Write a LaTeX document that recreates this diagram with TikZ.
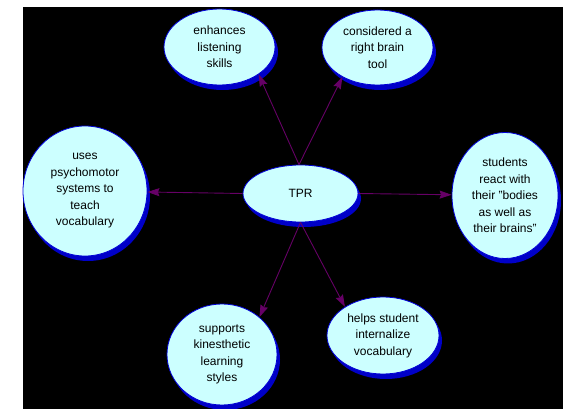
\documentclass[tikz,border=0pt]{standalone}
\usepackage{fontspec}
\setmainfont{Liberation Sans}
\usetikzlibrary{shapes.geometric,shadows,arrows.meta}
\definecolor{bubblefill}{HTML}{CCFFFF}
\definecolor{bubbleedge}{HTML}{0000D8}
\definecolor{bubbleshadow}{HTML}{0000C8}
\definecolor{linkcol}{HTML}{660066}
\tikzset{
  bubble/.style={ellipse, fill=bubblefill, draw=bubbleedge, line width=0.8pt,
    inner sep=0pt, align=center, text=black,
    font=\fontsize{12}{16.5}\selectfont,
    general shadow={fill=bubbleshadow, shadow xshift=3pt, shadow yshift=-5pt}},
  link/.style={draw=linkcol, line width=0.9pt,
    -{Stealth[length=12pt,width=8pt,inset=1.5pt,fill=linkcol]}}
}
\begin{document}
\begin{tikzpicture}[x=1pt,y=-1pt]
\useasboundingbox (0,0) rectangle (563,409);
\fill[white] (0,0) rectangle (563,409);
\fill[black] (23,7) rectangle (563,409);

\node[bubble, minimum width=111pt, minimum height=76pt] (enh) at (219.5,47)
  {enhances\\listening\\skills};
\node[bubble, minimum width=111pt, minimum height=75pt] (con) at (377.5,47.5)
  {considered a\\right brain\\tool};
\node[bubble, minimum width=124pt, minimum height=130pt] (uses) at (85,191)
  {uses\\psychomotor\\systems to\\teach\\vocabulary};
\node[bubble, minimum width=106pt, minimum height=126pt] (stu) at (505,195.5)
  {students\\react with\\their "bodies\\as well as\\their brains"};
\node[bubble, minimum width=115pt, minimum height=57pt] (tpr) at (300.5,193.5)
  {TPR};
\node[bubble, minimum width=110pt, minimum height=101pt] (sup) at (222,354.5)
  {supports\\kinesthetic\\learning\\styles};
\node[bubble, minimum width=112pt, minimum height=77pt] (hel) at (383,335.5)
  {helps student\\internalize\\vocabulary};

\draw[link] (tpr.93) -- (enh.-35);
\draw[link] (tpr.93) -- (con.-140);
\draw[link] (tpr.west) -- (uses);
\draw[link] (tpr.east) -- (stu);
\draw[link] (tpr.south) -- (sup.45);
\draw[link] (tpr.south) -- (hel.143);
\end{tikzpicture}
\end{document}
